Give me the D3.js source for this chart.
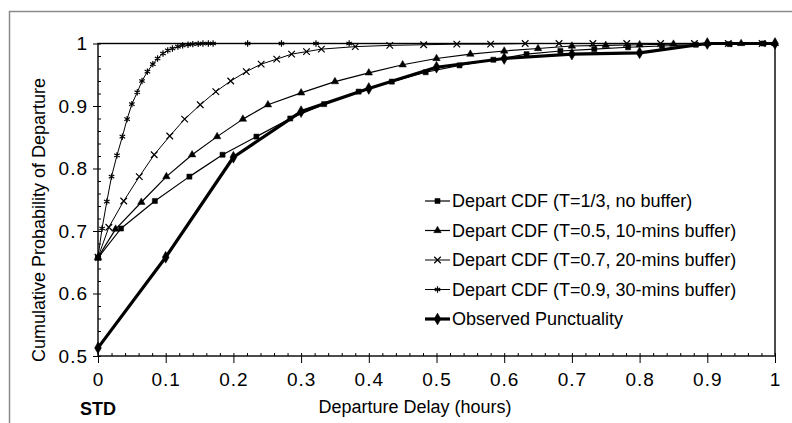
<!DOCTYPE html>
<html>
<head>
<meta charset="utf-8">
<script src="https://cdn.jsdelivr.net/npm/d3@7"></script>
<style>
  body { margin: 0; background: #fff; }
  svg text { font-family: "Liberation Sans", Arial, sans-serif; fill: #000; }
  .tick line { stroke: #000; }
</style>
</head>
<body>
<div id="chart"></div>
<script>
// tick labels
const xTicks = [0, 0.1, 0.2, 0.3, 0.4, 0.5, 0.6, 0.7, 0.8, 0.9, 1];
const yTicks = [0.5, 0.6, 0.7, 0.8, 0.9, 1];

const seriesNames = [
  'Depart CDF (T=1/3, no buffer)',
  'Depart CDF (T=0.5, 10-mins buffer)',
  'Depart CDF (T=0.7, 20-mins buffer)',
  'Depart CDF (T=0.9, 30-mins buffer)',
  'Observed Punctuality'
];

// T=1/3, no buffer
const t33X = [0, 0.034, 0.084, 0.135, 0.184, 0.234, 0.284, 0.334, 0.385, 0.434, 0.484, 0.534, 0.584, 0.633, 0.683, 0.733, 0.783, 0.833, 0.883, 0.933, 0.983];
const t33Y = [0.657, 0.704, 0.748, 0.787, 0.822, 0.851, 0.880, 0.903, 0.923, 0.939, 0.954, 0.965, 0.974, 0.983, 0.988, 0.991, 0.994, 0.996, 0.998, 0.999, 1.0];

// T=0.5, 10-mins buffer
const t50X = [0, 0.026, 0.064, 0.101, 0.139, 0.176, 0.214, 0.251, 0.30, 0.35, 0.40, 0.45, 0.50, 0.55, 0.60, 0.65, 0.70, 0.75, 0.80, 0.85, 0.90, 0.95, 1.0];
const t50Y = [0.658, 0.703, 0.746, 0.787, 0.822, 0.851, 0.879, 0.902, 0.921, 0.939, 0.953, 0.966, 0.976, 0.983, 0.988, 0.992, 0.996, 0.997, 0.998, 0.999, 1.0, 1.0, 1.0];

// T=0.7, 20-mins buffer
const t70X = [0, 0.016, 0.038, 0.061, 0.083, 0.106, 0.128, 0.151, 0.174, 0.196, 0.219, 0.241, 0.264, 0.286, 0.308, 0.330, 0.380, 0.431, 0.481, 0.530, 0.580, 0.631, 0.681, 0.731, 0.781, 0.831, 0.881, 0.931, 0.981];
const t70Y = [0.658, 0.706, 0.748, 0.787, 0.822, 0.852, 0.879, 0.902, 0.923, 0.940, 0.955, 0.967, 0.975, 0.983, 0.987, 0.991, 0.995, 0.997, 0.998, 0.999, 0.999, 1, 1, 1, 1, 1, 1, 1, 1];

// T=0.9, 30-mins buffer
const t90X = [0, 0.006, 0.013, 0.020, 0.028, 0.036, 0.043, 0.050, 0.058, 0.065, 0.073, 0.081, 0.088, 0.096, 0.103, 0.110, 0.118, 0.125, 0.133, 0.140, 0.148, 0.155, 0.163, 0.170, 0.221, 0.271, 0.322, 0.371];
const t90Y = [0.658, 0.704, 0.747, 0.787, 0.821, 0.851, 0.879, 0.903, 0.922, 0.940, 0.955, 0.967, 0.976, 0.984, 0.989, 0.992, 0.995, 0.997, 0.998, 0.999, 0.9995, 1, 1, 1, 1, 1, 1, 1];

// observed punctuality
const obsX = [0, 0.1, 0.2, 0.3, 0.4, 0.5, 0.6, 0.7, 0.8, 0.9, 1.0];
const obsY = [0.513, 0.658, 0.818, 0.891, 0.928, 0.962, 0.976, 0.983, 0.985, 1.0, 1.0];

const width = 792;
const height = 423;

const svg = d3.select('#chart').append('svg')
  .attr('width', width)
  .attr('height', height);

// outer grey frame
svg.append('rect')
  .attr('x', 9.5).attr('y', 11.5)
  .attr('width', 820).attr('height', 440)
  .attr('fill', 'none')
  .attr('stroke', '#8a8a8a')
  .attr('stroke-width', 1.5);

const xScale = d3.scaleLinear().domain([0, 1]).range([98, 775]);
const yScale = d3.scaleLinear().domain([0.5, 1]).range([356, 43.5]);

const fmt = d3.format('~g');

// minor ticks
svg.append('g')
  .attr('transform', `translate(0, ${yScale(0.5)})`)
  .call(d3.axisBottom(xScale).tickValues(xScale.ticks(50)).tickSize(-3).tickFormat(''))
  .call(g => g.select('.domain').remove());

svg.append('g')
  .attr('transform', `translate(${xScale(0)}, 0)`)
  .call(d3.axisLeft(yScale).tickValues(yScale.ticks(25)).tickSize(-3).tickFormat(''))
  .call(g => g.select('.domain').remove());

// major axes
const xAxisG = svg.append('g')
  .attr('transform', `translate(0, ${yScale(0.5)})`)
  .call(d3.axisBottom(xScale).tickValues(xTicks).tickSize(7).tickPadding(10).tickFormat(fmt));
xAxisG.select('.domain').remove();
xAxisG.selectAll('text').attr('font-size', 19).attr('letter-spacing', 1);

const yAxisG = svg.append('g')
  .attr('transform', `translate(${xScale(0)}, 0)`)
  .call(d3.axisLeft(yScale).tickValues(yTicks).tickSize(5).tickPadding(5).tickFormat(fmt));
yAxisG.select('.domain').remove();
yAxisG.selectAll('text').attr('font-size', 19).attr('letter-spacing', 1);

// plot box
svg.append('rect')
  .attr('x', xScale(0)).attr('y', yScale(1))
  .attr('width', xScale(1) - xScale(0))
  .attr('height', yScale(0.5) - yScale(1))
  .attr('fill', 'none')
  .attr('stroke', '#000')
  .attr('stroke-width', 1.4);

// axis titles
svg.append('text')
  .attr('x', 415).attr('y', 413)
  .attr('text-anchor', 'middle')
  .attr('font-size', 18)
  .text('Departure Delay (hours)');

svg.append('text')
  .attr('x', 98).attr('y', 415)
  .attr('text-anchor', 'middle')
  .attr('font-size', 18)
  .attr('font-weight', 'bold')
  .text('STD');

svg.append('text')
  .attr('transform', 'translate(45, 220) rotate(-90)')
  .attr('text-anchor', 'middle')
  .attr('font-size', 18)
  .text('Cumulative Probability of Departure');

// series
const zip = (xs, ys) => xs.map((x, i) => ({x: x, y: ys[i]}));

const series = [
  {data: zip(t33X, t33Y), symbol: d3.symbolSquare, size: 26, fill: true, lw: 1.2},
  {data: zip(t50X, t50Y), symbol: d3.symbolTriangle, size: 24, fill: true, lw: 1.2},
  {data: zip(t70X, t70Y), symbol: d3.symbolTimes, size: 30, fill: false, lw: 1},
  {data: zip(t90X, t90Y), symbol: d3.symbolAsterisk, size: 28, fill: false, lw: 1},
  {data: zip(obsX, obsY), symbol: d3.symbolDiamond, size: 40, fill: true, lw: 3.2}
];

const lineGenerator = d3.line()
  .x(d => xScale(d.x))
  .y(d => yScale(d.y));

const plotG = svg.append('g');

series.forEach(s => {
  plotG.append('path')
    .attr('d', lineGenerator(s.data))
    .attr('fill', 'none')
    .attr('stroke', '#000')
    .attr('stroke-width', s.lw)
    .attr('stroke-linejoin', 'round');

  plotG.selectAll(null)
    .data(s.data)
    .enter().append('path')
    .attr('transform', d => `translate(${xScale(d.x)}, ${yScale(d.y)})`)
    .attr('d', d3.symbol().type(s.symbol).size(s.size))
    .attr('fill', s.fill ? '#000' : 'none')
    .attr('stroke', '#000')
    .attr('stroke-width', s.fill ? 0.5 : 1.2);
});

// legend
const legendRows = [201, 230.5, 260, 289.5, 319];
const legend = svg.append('g');

series.forEach((s, i) => {
  const row = legend.append('g').attr('transform', `translate(0, ${legendRows[i]})`);
  row.append('line')
    .attr('x1', 425).attr('x2', 450)
    .attr('stroke', '#000')
    .attr('stroke-width', s.lw);
  row.append('path')
    .attr('transform', 'translate(437.5, 0)')
    .attr('d', d3.symbol().type(s.symbol).size(s.size))
    .attr('fill', s.fill ? '#000' : 'none')
    .attr('stroke', '#000')
    .attr('stroke-width', s.fill ? 0.5 : 1.2);
  row.append('text')
    .attr('x', 452)
    .attr('dy', '0.35em')
    .attr('font-size', 18)
    .text(seriesNames[i]);
});
</script>
</body>
</html>
